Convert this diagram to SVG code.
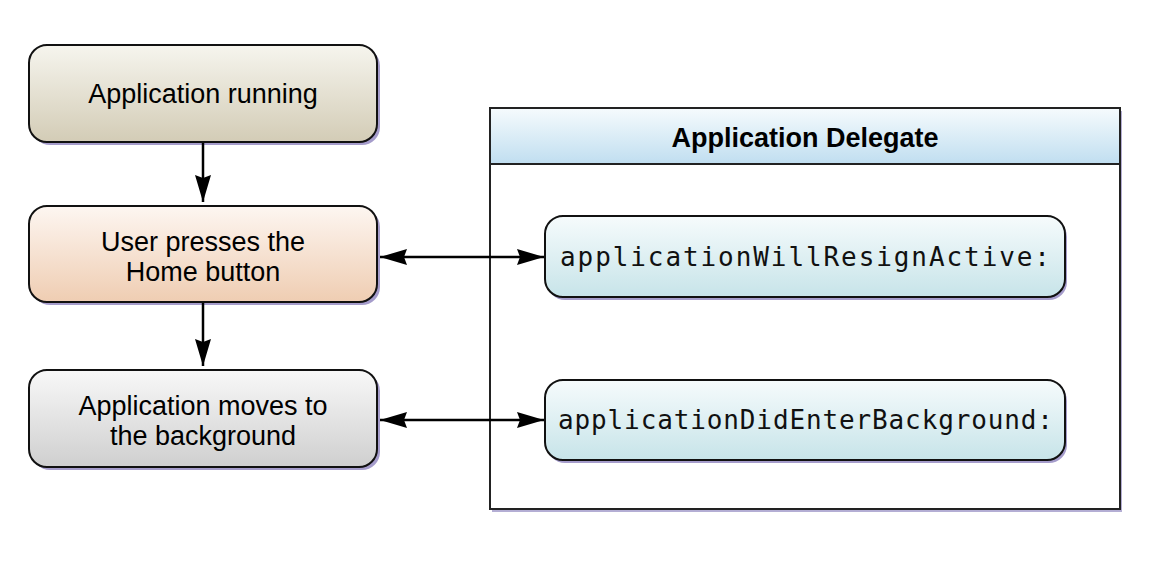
<svg xmlns="http://www.w3.org/2000/svg" width="1158" height="582" viewBox="0 0 1158 582">
<defs>
<linearGradient id="g1" x1="0" y1="0" x2="0" y2="1"><stop offset="0" stop-color="#f6f5ee"/><stop offset="1" stop-color="#d3ccb6"/></linearGradient>
<linearGradient id="g2" x1="0" y1="0" x2="0" y2="1"><stop offset="0" stop-color="#fdf6f1"/><stop offset="1" stop-color="#efcdb2"/></linearGradient>
<linearGradient id="g3" x1="0" y1="0" x2="0" y2="1"><stop offset="0" stop-color="#f8f8f8"/><stop offset="1" stop-color="#cfcfcf"/></linearGradient>
<linearGradient id="gp" x1="0" y1="0" x2="0" y2="1"><stop offset="0" stop-color="#f6fbfc"/><stop offset="1" stop-color="#c7e4e9"/></linearGradient>
<linearGradient id="gh" x1="0" y1="0" x2="0" y2="1"><stop offset="0" stop-color="#f6fbfd"/><stop offset="1" stop-color="#c0def0"/></linearGradient>
<marker id="ah" viewBox="0 0 27 16" refX="27" refY="8" markerWidth="27" markerHeight="16" markerUnits="userSpaceOnUse" orient="auto-start-reverse"><path d="M0,0 L27,8 L0,16 L3,8 Z" fill="#000"/></marker>
</defs>
<style>
.box{stroke:#111;stroke-width:2}
.sh{fill:#a59ccb}
.t{font-family:"Liberation Sans",Arial,sans-serif;font-size:27px;fill:#000;text-anchor:middle}
.m{font-family:"DejaVu Sans Mono","Liberation Mono",monospace;font-size:26px;fill:#111}
.c{stroke:#000;stroke-width:2.5;fill:none}
</style>
<rect width="1158" height="582" fill="#fff"/>
<g id="delegate">
<rect x="492" y="111" width="630" height="401" fill="#b4aed4"/>
<rect x="490" y="108" width="630" height="401" fill="#fff" stroke="#222" stroke-width="2"/>
<rect x="490" y="108" width="630" height="56" fill="url(#gh)" stroke="#222" stroke-width="2"/>
<text x="805" y="147" class="t" style="font-weight:bold">Application Delegate</text>
</g>
<g id="n1">
<rect x="32" y="48" width="348" height="97" rx="18" class="sh"/>
<rect x="29" y="45" width="348" height="97" rx="18" fill="url(#g1)" class="box"/>
<text x="203" y="103" class="t">Application running</text>
</g>
<g id="n2">
<rect x="32" y="209" width="348" height="96" rx="18" class="sh"/>
<rect x="29" y="206" width="348" height="96" rx="18" fill="url(#g2)" class="box"/>
<text x="203" y="251" class="t">User presses the</text>
<text x="203" y="281" class="t">Home button</text>
</g>
<g id="n3">
<rect x="32" y="373" width="348" height="97" rx="18" class="sh"/>
<rect x="29" y="370" width="348" height="97" rx="18" fill="url(#g3)" class="box"/>
<text x="203" y="415" class="t">Application moves to</text>
<text x="203" y="445" class="t">the background</text>
</g>
<g id="p1">
<rect x="547" y="219" width="520" height="81" rx="18" class="sh"/>
<rect x="545" y="216" width="520" height="81" rx="18" fill="url(#gp)" class="box"/>
<text x="560" y="266" class="m" textLength="490" lengthAdjust="spacing">applicationWillResignActive:</text>
</g>
<g id="p2">
<rect x="547" y="383" width="520" height="80" rx="18" class="sh"/>
<rect x="545" y="380" width="520" height="80" rx="18" fill="url(#gp)" class="box"/>
<text x="558" y="429" class="m" textLength="495" lengthAdjust="spacing">applicationDidEnterBackground:</text>
</g>
<g id="connectors">
<line x1="203" y1="143" x2="203" y2="202" class="c" marker-end="url(#ah)"/>
<line x1="203" y1="303" x2="203" y2="366" class="c" marker-end="url(#ah)"/>
<line x1="380" y1="257" x2="544" y2="257" class="c" marker-start="url(#ah)" marker-end="url(#ah)"/>
<line x1="380" y1="420" x2="544" y2="420" class="c" marker-start="url(#ah)" marker-end="url(#ah)"/>
</g>
</svg>
